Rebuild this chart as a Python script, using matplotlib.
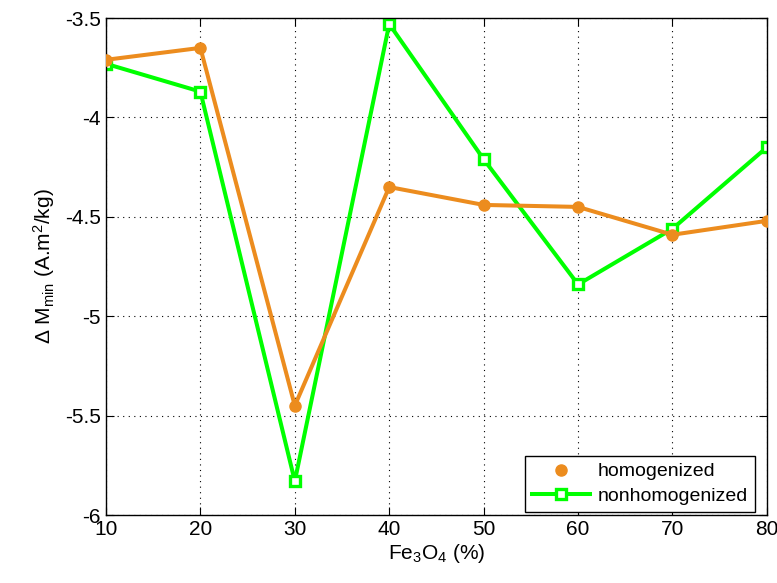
import numpy as np
import matplotlib.pyplot as plt

plt.rcParams['font.family'] = ['Liberation Sans', 'DejaVu Sans']
plt.rcParams['mathtext.fontset'] = 'custom'
plt.rcParams['mathtext.rm'] = 'Liberation Sans'
plt.rcParams['mathtext.it'] = 'Liberation Sans:italic'

fe3o4 = [10, 20, 30, 40, 50, 60, 70, 80]
homogenized = [-3.71, -3.65, -5.45, -4.35, -4.44, -4.45, -4.59, -4.52]
nonhomogenized = [-3.73, -3.87, -5.83, -3.53, -4.21, -4.84, -4.56, -4.15]

orange = '#ec8c1e'
green = '#00ff00'

fig = plt.figure(figsize=(7.77, 5.83), dpi=100)
ax = fig.add_axes([0.1364, 0.1166, 0.8506, 0.8524])

ax.plot(fe3o4, homogenized, color=orange, lw=2.9, marker='o', ms=8,
        zorder=3)
ax.plot(fe3o4, nonhomogenized, color=green, lw=2.9, marker='s', ms=7,
        mfc='white', mec=green, mew=2.4, zorder=2)

# legend: orange entry is only a marker in the reference
h1, = ax.plot([], [], ls='none', color=orange, marker='o', ms=8)
h2, = ax.plot([], [], color=green, lw=2.9, marker='s', ms=7,
              mfc='white', mec=green, mew=2.4)
leg = ax.legend([h1, h2], ['homogenized', 'nonhomogenized'],
                loc='lower right', fontsize=14, fancybox=False,
                framealpha=1, edgecolor='black', borderpad=0.35,
                handlelength=3.0, labelspacing=0.35, handletextpad=0.4,
                borderaxespad=0, bbox_to_anchor=(0.982, 0.007))
leg.get_frame().set_linewidth(1.0)

ax.set_xlim(10, 80)
ax.set_ylim(-6, -3.5)
ax.set_xticks(np.arange(10, 81, 10))
ax.set_yticks(np.arange(-6, -3.49, 0.5))
ax.set_yticklabels(['-6', '-5.5', '-5', '-4.5', '-4', '-3.5'])
ax.grid(True, color='black', linestyle=(0, (1, 4)), linewidth=0.8)
ax.tick_params(direction='in', labelsize=15, length=6,
               top=True, right=True)
for s in ax.spines.values():
    s.set_linewidth(1.0)

ax.set_xlabel('Fe$_3$O$_4$ (%)', fontsize=15, labelpad=2)
ax.set_ylabel(r'$\Delta$ M$_{\rm min}$ (A.m$^2$/kg)', fontsize=15,
              labelpad=6)

fig.savefig('out.png', dpi=100)
